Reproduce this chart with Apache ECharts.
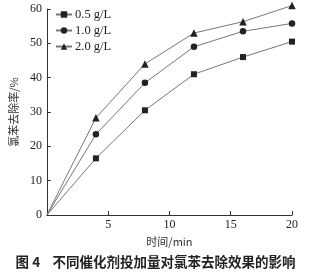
<!DOCTYPE html>
<html><head><meta charset="utf-8">
<script src="https://cdn.jsdelivr.net/npm/echarts@6/dist/echarts.min.js"></script>
<style>html,body{margin:0;padding:0;background:#fff}#c{width:311px;height:278px}</style>
</head><body><div id="c"></div>
<script>
const times = [0, 4, 8, 12, 16, 20];
const seriesNames = ['0.5 g/L', '1.0 g/L', '2.0 g/L'];
const s05 = [0, 16.5, 30.5, 41, 46, 50.5];
const s10 = [0, 23.5, 38.5, 49, 53.5, 55.8];
const s20 = [0, 28.3, 44, 53, 56.3, 61];
const xTicks = [0, 5, 10, 15, 20];
const yTicks = [0, 10, 20, 30, 40, 50, 60];
const xName = '时间/min';
const yName = '氯苯去除率/%';
const caption = '图 4    不同催化剂投加量对氯苯去除效果的影响';

const serif = '"Liberation Serif","Times New Roman",serif';
const cjk = '"Noto Sans CJK SC",sans-serif';
const symbols = ['rect', 'circle', 'triangle'];
const sizes = [6, 6.5, 7.5];
const all = [s05, s10, s20];

const chart = echarts.init(document.getElementById('c'), null, {renderer: 'canvas'});
chart.setOption({
  animation: false,
  backgroundColor: '#fff',
  grid: {left: 43, right: 19, top: 9, bottom: 63},
  legend: {
    orient: 'vertical', left: 50, top: 3, itemGap: 3, itemWidth: 16, itemHeight: 8,
    textStyle: {fontFamily: serif, fontSize: 12.5, color: '#222', padding: [0, 0, 0, -2]},
    data: seriesNames
  },
  xAxis: {
    type: 'value', min: xTicks[0], max: xTicks[xTicks.length - 1], interval: 5,
    name: xName, nameLocation: 'middle', nameGap: 18,
    nameTextStyle: {fontFamily: cjk, fontSize: 11, color: '#333'},
    axisLine: {lineStyle: {color: '#333', width: 1}},
    axisTick: {inside: true, length: 4, lineStyle: {color: '#333'}},
    axisLabel: {fontFamily: serif, fontSize: 12, color: '#222', margin: 4,
      formatter: v => (v === 0 ? '' : v)},
    splitLine: {show: false}
  },
  yAxis: {
    type: 'value', min: yTicks[0], max: yTicks[yTicks.length - 1], interval: 10,
    name: yName, nameLocation: 'middle', nameGap: 25,
    nameTextStyle: {fontFamily: cjk, fontSize: 11, color: '#333'},
    axisLine: {show: true, lineStyle: {color: '#333', width: 1}},
    axisTick: {show: true, inside: true, length: 4, lineStyle: {color: '#333'}},
    axisLabel: {fontFamily: serif, fontSize: 12, color: '#222', margin: 5},
    splitLine: {show: false}
  },
  title: {
    text: caption, left: 'center', bottom: 4,
    textStyle: {fontFamily: cjk, fontSize: 13.5, fontWeight: 'bold', color: '#222'}
  },
  series: all.map((arr, k) => ({
    name: seriesNames[k], type: 'line', clip: false,
    symbol: symbols[k], symbolSize: sizes[k], showAllSymbol: true,
    lineStyle: {color: '#777', width: 1},
    itemStyle: {color: '#222', borderWidth: 0},
    data: times.map((t, i) => i === 0 ? {value: [t, arr[i]], symbol: 'none'} : [t, arr[i]])
  }))
});
</script></body></html>
